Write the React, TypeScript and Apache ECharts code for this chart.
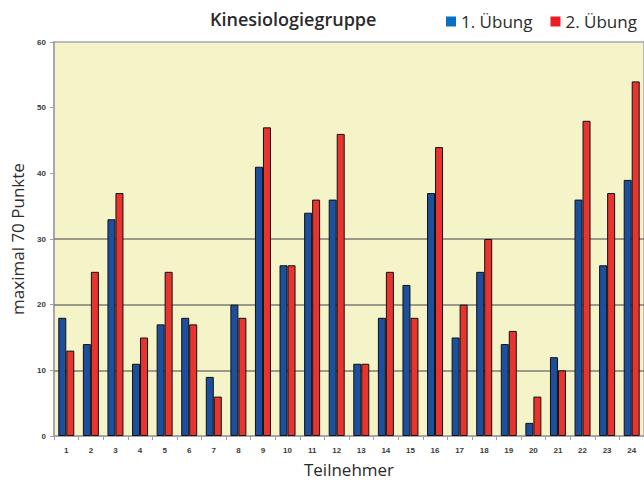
import React, { useEffect, useRef } from "react";
import * as echarts from "echarts";

const categories = ["1","2","3","4","5","6","7","8","9","10","11","12","13","14","15","16","17","18","19","20","21","22","23","24"];
const uebung1 = [18, 14, 33, 11, 17, 18, 9, 20, 41, 26, 34, 36, 11, 18, 23, 37, 15, 25, 14, 2, 12, 36, 26, 39];
const uebung2 = [13, 25, 37, 15, 25, 17, 6, 18, 47, 26, 36, 46, 11, 25, 18, 44, 20, 30, 16, 6, 10, 48, 37, 54];
const gridValues = [10, 20, 30];
const seriesNames = ["1. Übung", "2. Übung"];

export default function App() {
  const ref = useRef<HTMLDivElement>(null);
  useEffect(() => {
    if (!ref.current) return;
    const chart = echarts.init(ref.current, null, { renderer: "svg" });
    const font = "'Open Sans', sans-serif";
    const tickFont = "'Liberation Sans', Arial, sans-serif";
    chart.setOption({
      animation: false,
      backgroundColor: "#ffffff",
      title: {
        text: "Kinesiologiegruppe",
        left: 210,
        top: 10,
        padding: 0,
        textStyle: { fontFamily: font, fontSize: 18, fontWeight: 600, color: "#2a2a2a" },
      },
      legend: {
        left: 446,
        top: 13,
        padding: 0,
        itemWidth: 10,
        itemHeight: 10,
        itemGap: 18,
        icon: "rect",
        textStyle: { fontFamily: font, fontSize: 17, color: "#2a2a2a", padding: [0, 0, 0, 0] },
        data: [
          { name: seriesNames[0], itemStyle: { color: "#0b6fc1", borderWidth: 0 } },
          { name: seriesNames[1], itemStyle: { color: "#ec1c24", borderWidth: 0 } },
        ],
      },
      grid: {
        left: 54,
        right: -7,
        top: 42,
        bottom: 45,
        show: true,
        backgroundColor: "#f4f4c8",
        borderColor: "#a8a8a8",
        borderWidth: 1.5,
      },
      xAxis: {
        type: "category",
        data: categories,
        name: "Teilnehmer",
        nameLocation: "middle",
        nameGap: 25,
        nameTextStyle: { fontFamily: font, fontSize: 17, color: "#2a2a2a" },
        axisLine: { lineStyle: { color: "#a0a0a0", width: 1.5 } },
        axisTick: { show: true, length: 4, lineStyle: { color: "#a0a0a0" } },
        axisLabel: { fontFamily: tickFont, fontSize: 8, fontWeight: "bold", color: "#3a3a3a", margin: 10 },
      },
      yAxis: {
        type: "value",
        min: 0,
        max: 60,
        interval: 10,
        name: "maximal 70 Punkte",
        nameLocation: "middle",
        nameGap: 24,
        nameTextStyle: { fontFamily: font, fontSize: 17, color: "#2a2a2a" },
        axisLine: { show: true, lineStyle: { color: "#a0a0a0", width: 1.5 } },
        axisTick: { show: true, length: 4, lineStyle: { color: "#a0a0a0" } },
        axisLabel: { fontFamily: tickFont, fontSize: 8, fontWeight: "bold", color: "#3a3a3a", margin: 8 },
        splitLine: { show: false },
      },
      series: [
        {
          name: seriesNames[0],
          type: "bar",
          data: uebung1,
          barWidth: 8,
          barGap: "0%",
          itemStyle: { color: "#1c4f9e", borderColor: "#111", borderWidth: 1 },
          markLine: {
            silent: true,
            symbol: "none",
            label: { show: false },
            lineStyle: { color: "#7c7c74", width: 1.5, type: "solid" },
            data: gridValues.map((v) => ({ yAxis: v })),
            z: 1,
          },
          z: 3,
        },
        {
          name: seriesNames[1],
          type: "bar",
          data: uebung2,
          barWidth: 8,
          barGap: "0%",
          itemStyle: { color: "#e8332e", borderColor: "#111", borderWidth: 1 },
          z: 3,
        },
      ],
    });
    return () => chart.dispose();
  }, []);
  return <div ref={ref} style={{ width: 644, height: 483, position: "absolute", left: 0, top: 0 }} />;
}
